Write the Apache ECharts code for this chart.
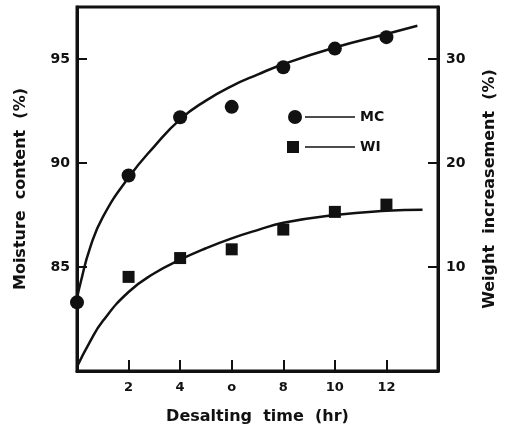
<!DOCTYPE html>
<html>
<head>
<meta charset="utf-8">
<script src="https://cdn.jsdelivr.net/npm/echarts@6/dist/echarts.min.js"></script>
<style>
html,body{margin:0;padding:0;background:#fff;}
#chart{width:511px;height:431px;}
</style>
</head>
<body>
<div id="chart"></div>
<script>
// Measured points
const mcHours = [0, 2, 4, 6, 8, 10, 12];
const mcValues = [83.3, 89.4, 92.2, 92.7, 94.6, 95.5, 96.05];
const wiHours = [2, 4, 6, 8, 10, 12];
const wiValues = [9.05, 10.86, 11.7, 13.6, 15.3, 16.0];
// Fitted curves
const mcFitHours = [0, 0.15, 0.5, 1, 2, 3, 4, 5, 6, 7, 8, 10, 12, 13.2];
const mcFitValues = [83.5, 84.3, 85.9, 87.4, 89.3, 90.8, 92.1, 93.0, 93.7, 94.25, 94.75, 95.55, 96.2, 96.6];
const wiFitHours = [0, 0.5, 1, 2, 3, 4, 5, 6, 7, 8, 10, 12, 13.4];
const wiFitValues = [0.4, 2.8, 4.8, 7.6, 9.4, 10.7, 11.8, 12.75, 13.55, 14.25, 15.0, 15.4, 15.5];
// Tick labels
const xTickLabels = {2: '2', 4: '4', 6: 'o', 8: '8', 10: '10', 12: '12'};
const leftTickLabels = {85: '85', 90: '90', 95: '95'};
const rightTickLabels = {10: '10', 20: '20', 30: '30'};
const legendNames = ['MC', 'WI'];

const FONT = 'DejaVu Sans';
const INK = '#111';

const chart = echarts.init(document.getElementById('chart'), null, {renderer: 'canvas'});

function zip(a, b) { return a.map((v, i) => [v, b[i]]); }

const option = {
  backgroundColor: '#fff',
  animation: false,
  grid: {left: 77, right: 73, top: 7, bottom: 60, show: true, borderColor: INK, borderWidth: 3, backgroundColor: 'transparent'},
  xAxis: {
    type: 'value', min: 0, max: 14, interval: 2,
    name: 'Desalting  time  (hr)', nameLocation: 'middle', nameGap: 38,
    nameTextStyle: {fontFamily: FONT, fontWeight: 'bold', fontSize: 16, color: INK},
    axisLine: {show: true, lineStyle: {color: INK, width: 3}},
    axisTick: {show: true, inside: true, length: 11, lineStyle: {color: INK, width: 2}},
    splitLine: {show: false},
    axisLabel: {margin: 10, fontFamily: FONT, fontWeight: 'bold', fontSize: 13, color: INK,
      formatter: v => xTickLabels[v] || ''}
  },
  yAxis: [{
    type: 'value', min: 80, max: 97.5, interval: 5, position: 'left',
    name: 'Moisture  content  (%)', nameLocation: 'middle', nameGap: 48,
    nameTextStyle: {fontFamily: FONT, fontWeight: 'bold', fontSize: 16, color: INK},
    axisLine: {show: true, lineStyle: {color: INK, width: 3}},
    axisTick: {show: true, inside: true, length: 10, lineStyle: {color: INK, width: 2}},
    splitLine: {show: false},
    axisLabel: {margin: 7, fontFamily: FONT, fontWeight: 'bold', fontSize: 14, color: INK,
      formatter: v => leftTickLabels[v] || ''}
  }, {
    type: 'value', min: 0, max: 35, interval: 10, position: 'right',
    name: 'Weight  increasement  (%)', nameLocation: 'middle', nameGap: 44, nameRotate: 90,
    nameTextStyle: {fontFamily: FONT, fontWeight: 'bold', fontSize: 16, color: INK},
    axisLine: {show: true, lineStyle: {color: INK, width: 3}},
    axisTick: {show: true, inside: true, length: 10, lineStyle: {color: INK, width: 2}},
    splitLine: {show: false},
    axisLabel: {margin: 8, fontFamily: FONT, fontWeight: 'bold', fontSize: 14, color: INK,
      formatter: v => rightTickLabels[v] || ''}
  }],
  series: [
    {name: 'MC fit', type: 'line', yAxisIndex: 0, data: zip(mcFitHours, mcFitValues),
      smooth: 0.5, showSymbol: false, lineStyle: {color: INK, width: 2.5}, z: 2},
    {name: 'WI fit', type: 'line', yAxisIndex: 1, data: zip(wiFitHours, wiFitValues),
      smooth: 0.5, showSymbol: false, lineStyle: {color: INK, width: 2.5}, z: 2},
    {name: legendNames[0], type: 'scatter', yAxisIndex: 0, data: zip(mcHours, mcValues),
      symbol: 'circle', symbolSize: 14, itemStyle: {color: INK, opacity: 1}, z: 3},
    {name: legendNames[1], type: 'scatter', yAxisIndex: 1, data: zip(wiHours, wiValues),
      symbol: 'rect', symbolSize: 12, itemStyle: {color: INK, opacity: 1}, z: 3}
  ],
  graphic: [
    {type: 'circle', shape: {cx: 295, cy: 117, r: 7}, style: {fill: INK}},
    {type: 'line', shape: {x1: 305, y1: 117, x2: 355, y2: 117}, style: {stroke: INK, lineWidth: 1.5}},
    {type: 'text', x: 360, y: 117, style: {text: legendNames[0], font: 'bold 14px "DejaVu Sans"', fill: INK, verticalAlign: 'middle'}},
    {type: 'rect', shape: {x: 287, y: 141, width: 12, height: 12}, style: {fill: INK}},
    {type: 'line', shape: {x1: 305, y1: 147, x2: 355, y2: 147}, style: {stroke: INK, lineWidth: 1.5}},
    {type: 'text', x: 360, y: 147, style: {text: legendNames[1], font: 'bold 14px "DejaVu Sans"', fill: INK, verticalAlign: 'middle'}}
  ]
};
chart.setOption(option);
</script>
</body>
</html>
